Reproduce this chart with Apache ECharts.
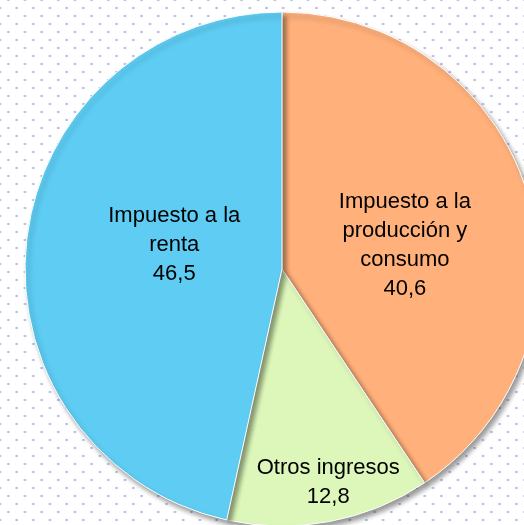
<!DOCTYPE html>
<html lang="es">
<head>
  <meta charset="UTF-8">
  <title>Ingresos tributarios</title>
  <script src="https://cdn.jsdelivr.net/npm/echarts@6/dist/echarts.min.js"></script>
  <style>
    html, body { margin: 0; padding: 0; overflow: hidden; background: #fff; }
    #chart {
      width: 524px; height: 525px;
      background-image:
        radial-gradient(circle, #a9b2e2 0.9px, transparent 1.4px),
        radial-gradient(circle, #a9b2e2 0.9px, transparent 1.4px);
      background-size: 16.67px 16px, 16.67px 16px;
      background-position: -8.33px 0px, 0px -8px;
    }
  </style>
</head>
<body>
  <div id="chart"></div>
  <script>
    // datos del grafico
    var categorias = ['Impuesto a la\nproducción y\nconsumo', 'Otros ingresos', 'Impuesto a la\nrenta'];
    var valores = [40.6, 12.8, 46.5];
    var colores = ['#FFB07B', '#DCF7B9', '#5ECCF3'];

    // desplazamiento de las etiquetas (como en el original)
    var etiquetaDx = [-3, 22, 23];
    var etiquetaDy = [15, 84, -10];

    var datos = [];
    for (var i = 0; i < categorias.length; i++) {
      datos.push({ name: categorias[i], value: valores[i], itemStyle: { color: colores[i] } });
    }

    var chart = echarts.init(document.getElementById('chart'));
    var option = {
      animation: false,
      series: [
        {
          type: 'pie',
          center: [282, 269],
          radius: 257,
          startAngle: 90,
          clockwise: true,
          data: datos,
          itemStyle: {
            borderColor: '#ffffff',
            borderWidth: 1,
            shadowColor: 'rgba(0,0,0,0.4)',
            shadowBlur: 5,
            shadowOffsetX: 3,
            shadowOffsetY: 4
          },
          label: {
            show: true,
            position: 'inside',
            color: '#000',
            fontFamily: 'Liberation Sans',
            fontSize: 22,
            lineHeight: 29,
            formatter: function (p) {
              return p.name + '\n' + p.value.toFixed(1).replace('.', ',');
            }
          },
          labelLayout: function (p) {
            return { dx: etiquetaDx[p.dataIndex], dy: etiquetaDy[p.dataIndex] };
          },
          labelLine: { show: false },
          emphasis: { disabled: true }
        }
      ]
    };
    chart.setOption(option);
    window.onresize = function () {
      chart.resize();
    };
  </script>
</body>
</html>
